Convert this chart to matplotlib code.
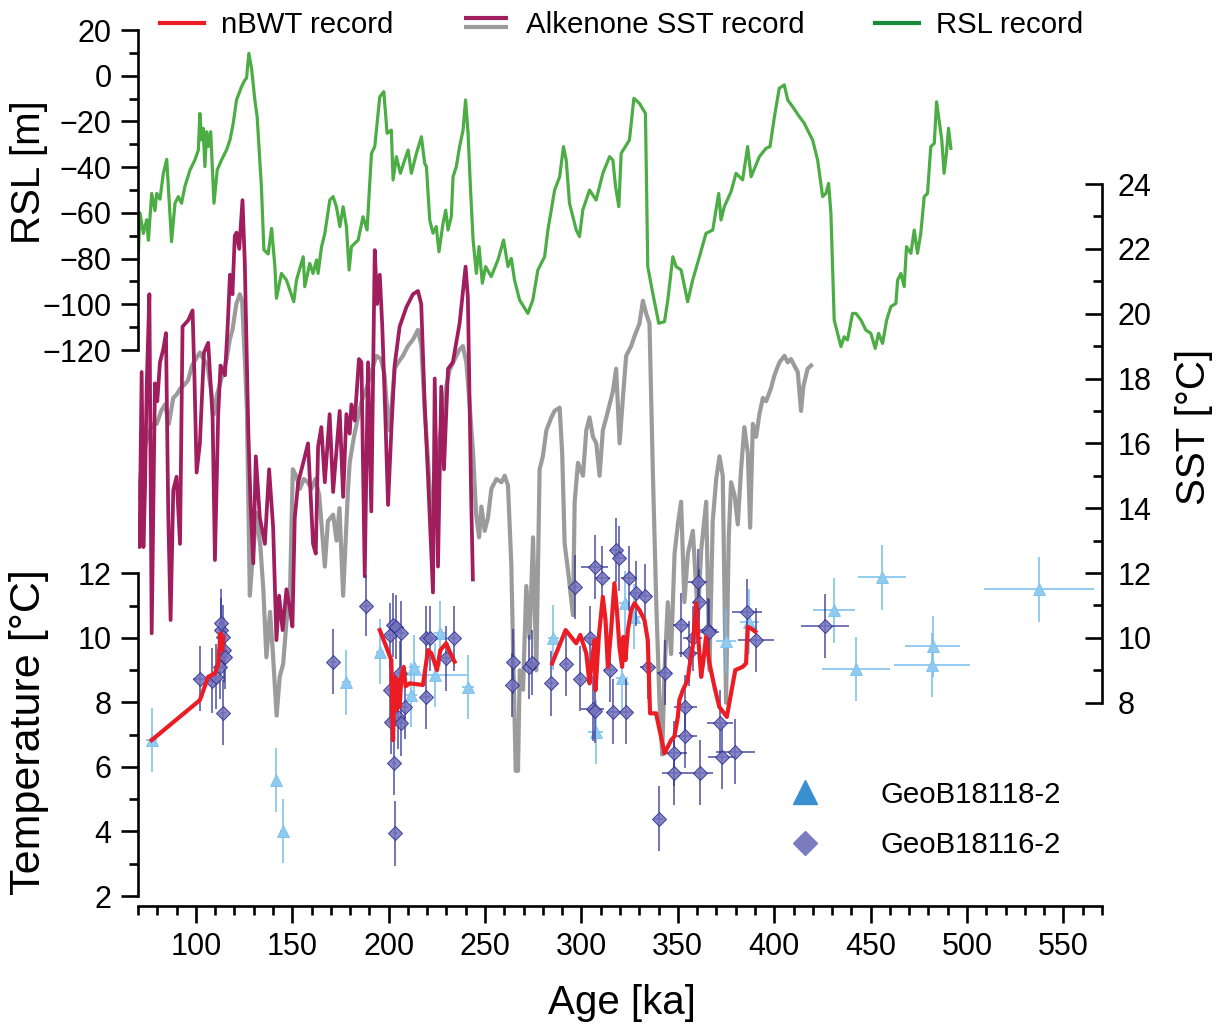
import numpy as np
import matplotlib
matplotlib.use('Agg')
import matplotlib.pyplot as plt
from matplotlib.lines import Line2D
from matplotlib.legend_handler import HandlerBase

plt.rcParams['font.family'] = ['Liberation Sans', 'DejaVu Sans']

# ---------------- data ----------------
# RSL record: (age ka, sea level m)
rsl_record = [
    (70, -82), (71, -60), (72.8, -69), (74.5, -63), (75.4, -72), (77.1, -51.5), (78.8, -59), (79.7, -51.5),
    (81.4, -54), (83.1, -43), (84.9, -36.6), (87.4, -72.6), (89.2, -55.8), (90.9, -52.9), (92.6, -55.8),
    (94.3, -48.5), (97, -41.2), (99.5, -36.9), (101.3, -32.5), (102.1, -16.5), (103, -28.1), (103.8, -23),
    (104.7, -39.8), (105.6, -24.5), (106.4, -31), (107.7, -24.5), (109.4, -55.8), (111.1, -41.2),
    (113.3, -36.9), (115.9, -32.5), (117.7, -28.1), (119.4, -20.8), (121.1, -10.6), (123.7, -4.8),
    (125.4, -1.9), (126.3, -1.1), (127.5, 9.8), (128.9, 3.2), (130.6, -10.6), (131.8, -17.9), (134, -48.5),
    (135.3, -76.2), (137.5, -78), (139.3, -66.8), (141, -83.5), (141.8, -97.4), (144.4, -86.5), (147, -89.4),
    (150.8, -98.9), (152.2, -89.4), (155.7, -79.2), (156.5, -92.3), (159.1, -82.1), (160.8, -86.5),
    (162.6, -80.6), (163.4, -86.5), (165.2, -74.8), (166.9, -69), (169.5, -54.4), (171.2, -52.9),
    (172.9, -57.3), (174.7, -66), (176.4, -57.3), (178.1, -66), (179.5, -85), (180.7, -74.8), (184.2, -71.9),
    (186.7, -61.7), (188.8, -67.5), (191.1, -34), (192.8, -31), (195.4, -9.2), (197.5, -7), (199.2, -25.2),
    (201.4, -23.8), (202.3, -45.6), (204, -35.4), (206.1, -42.7), (208.3, -36.9), (210.1, -32.5),
    (211.8, -42.7), (214.4, -34), (217, -26.7), (218.7, -38.4), (219.6, -39.8), (221.3, -63.1), (223, -68.9),
    (224.7, -66), (226.1, -77), (228.2, -64.6), (229.6, -58.8), (230.8, -67.5), (232.5, -61.7), (233.4, -44.2),
    (235.1, -39.8), (236.8, -31), (238.6, -23.8), (239.9, -10.6), (241.2, -25.2), (242.4, -48.5),
    (243.8, -71.9), (245.5, -86.5), (246.9, -74.8), (248.6, -90.8), (250.3, -83.5), (253.2, -87.9),
    (256.7, -80.6), (259.6, -71.9), (261.9, -83.5), (263.6, -79.9), (265.3, -89.4), (267.9, -98.1),
    (272.2, -104), (274.8, -98.1), (277.4, -85), (280.9, -79.2), (282.6, -67.5), (286.1, -50), (288.7, -44.2),
    (290.7, -31), (292.1, -36.9), (293.8, -55.8), (297.3, -67.5), (299, -70.4), (300.7, -58.8), (304.2, -50),
    (307.6, -54.4), (311.1, -42.7), (314.6, -35.4), (316.3, -36.9), (317.7, -48.5), (319.4, -57.3),
    (320.6, -34), (324.9, -28.1), (327.2, -9.9), (330.1, -12.1), (333.2, -16.5), (334.4, -83.5), (337, -95.2),
    (340.1, -108.3), (343.1, -107.6), (344.8, -98.1), (347.4, -79.2), (349.1, -83.5), (351.7, -85),
    (355.1, -98.9), (357.7, -89.4), (361.2, -79.2), (364.6, -69), (368.1, -67.5), (371.2, -51.5),
    (372.4, -63.1), (374.1, -57.3), (377.6, -50.7), (380.2, -42.7), (383.6, -45.6), (386.2, -31),
    (388, -44.2), (392.3, -35.4), (395.7, -31.8), (397.8, -31), (400.1, -17.9), (402.6, -5.5), (405.2, -4),
    (407, -10.6), (409.5, -13.5), (413, -17.9), (415.6, -20.8), (417.3, -23.8), (419.9, -28.1),
    (422.5, -36.9), (425.1, -52.9), (426.8, -51.5), (428.2, -47.1), (429.4, -60.2), (431.1, -106.9),
    (434.6, -118.5), (436.3, -114.2), (438, -115.6), (440.6, -104), (442.4, -104), (445, -106.9),
    (447.5, -111.3), (450.1, -112.7), (452.4, -119.3), (454.1, -112.7), (456.2, -117.1), (458.3, -106.9),
    (460.5, -101), (463.1, -99.6), (464, -89.4), (465.7, -86.5), (467.4, -92.3), (468.6, -74.8),
    (470.9, -77.7), (472.6, -67.5), (474.3, -77.7), (476, -69), (477.8, -52.9), (479.5, -51.5),
    (481.2, -31), (483, -29.6), (484.2, -11.4), (485.5, -19.4), (486.9, -28.1), (488.1, -42.7),
    (489.3, -34), (490.4, -23), (491.6, -31.8),
]

# Alkenone SST, magenta record: (age ka, SST degC)
sst_magenta = [
    (70, 13.1), (70.8, 12.8), (71.9, 18.2), (72.8, 12.8), (73.6, 14.5), (74.5, 17.75), (75.9, 20.6),
    (77.1, 10.14), (78.8, 17.85), (80, 17.3), (81.4, 18.5), (83.1, 18.9), (84.5, 19.4), (85.7, 13.8),
    (86.9, 10.55), (88.3, 14.56), (90, 14.97), (91.8, 12.9), (93.1, 19.6), (96.1, 19.8), (98.3, 20.1),
    (99.3, 18.0), (100.4, 15.1), (102.1, 16.0), (104.2, 18.8), (106.4, 19.1), (108.7, 16.8), (109.9, 12.4),
    (111.6, 16.9), (112.8, 18.4), (115.1, 18.1), (116.5, 19.6), (117.7, 21.2), (119, 20.6), (120.2, 22.4),
    (121.1, 22.5), (122.5, 22.0), (124.2, 23.5), (125.4, 21.55), (127.2, 16.4), (128.4, 14.1), (129.8, 12.3),
    (131.1, 15.6), (133.2, 13.7), (135.8, 12.9), (138, 15.2), (140.1, 13.4), (141.8, 9.93), (143.2, 11.3),
    (145, 10.24), (147, 11.5), (148.5, 11.0), (150.1, 10.35), (151.3, 13.7), (153.1, 14.8), (155.7, 15.4),
    (158.2, 16.0), (160.8, 12.9), (162.2, 12.6), (163.4, 15.9), (165.1, 16.5), (166.9, 14.8), (169.4, 16.9),
    (171.2, 14.5), (174.6, 17.0), (176.4, 14.35), (178.1, 16.9), (179.8, 16.3), (180.7, 17.2), (182.4, 16.7),
    (184.6, 18.6), (185.9, 18.5), (187.6, 11.9), (189.3, 18.5), (191, 13.9), (192.8, 21.96), (194, 20.3),
    (195.4, 21.2), (196.7, 19.6), (198.2, 17.0), (199.7, 14.1), (201.4, 16.4), (203.1, 18.4), (205.7, 19.6),
    (209.2, 20.2), (212.6, 20.6), (215.2, 20.7), (216.9, 20.3), (218.7, 17.2), (220.4, 15.0), (223, 11.4),
    (223.9, 18.0), (225.6, 12.2), (227.3, 17.75), (228.7, 15.2), (230.8, 18.3), (233.3, 18.5), (236.8, 19.7),
    (239.9, 21.45), (241.1, 20.5), (242.8, 14.35), (243.7, 11.8),
]

# Alkenone SST, grey record: (age ka, SST degC)
sst_grey = [
    (70, 14.3), (72, 15.3), (74, 16.0), (76, 16.4), (78, 16.6), (79.7, 16.6), (82, 17.0), (84, 17.2),
    (86, 16.6), (88.3, 17.4), (90, 17.5), (92, 17.7), (94, 17.8), (96, 17.95), (98, 18.4), (100, 18.6),
    (102.1, 18.8), (104, 18.6), (106, 18.4), (108, 17.6), (109.5, 16.9), (111, 17.5), (114.2, 18.2),
    (116, 18.6), (117.6, 19.2), (119, 19.5), (121, 20.3), (122.8, 20.6), (124, 20.4), (125.4, 18.6),
    (126.5, 17.0), (128, 11.3), (129.5, 12.5), (131.5, 13.85), (133.5, 12.8), (135, 11.5), (136.6, 9.4),
    (138.5, 10.8), (140, 9.5), (141.9, 7.6), (143.5, 8.8), (145.3, 9.2), (147, 10.5), (148.8, 11.3),
    (150.3, 15.2), (152, 15.0), (154, 14.6), (156, 14.9), (158, 14.8), (160, 14.6), (162, 14.9), (164, 14.4),
    (166.9, 12.2), (168.5, 13.6), (171.2, 13.8), (173, 13.0), (174.5, 14.0), (176.4, 11.3), (178.9, 14.56),
    (179.8, 15.4), (182, 16.2), (184.1, 16.8), (186, 17.3), (188, 17.6), (190, 18.0), (193.6, 18.7),
    (196, 18.6), (197.9, 18.1), (199, 17.2), (200.5, 16.4), (202, 17.5), (203.1, 18.3), (205, 18.5),
    (207.4, 18.7), (210, 19.0), (212.6, 19.2), (215.2, 19.5), (217, 19.0), (218.7, 17.0), (220.4, 15.5),
    (222.5, 13.5), (224, 15.0), (226, 16.0), (228, 16.8), (230, 17.8), (231.6, 18.26), (233.5, 18.5),
    (235.1, 18.7), (236.9, 18.9), (238.5, 19.0), (240.3, 18.5), (241.5, 17.6), (243.7, 15.8), (245.4, 13.8),
    (246.9, 13.1), (248.1, 14.05), (249.8, 13.3), (251.5, 13.7), (253.3, 14.6), (255.9, 14.9), (258.5, 14.8),
    (260.2, 15.0), (261.9, 14.7), (263.6, 12.3), (264.8, 9.0), (265.9, 5.9), (267.1, 5.9), (268, 9.0),
    (269.7, 8.4), (271.4, 11.6), (273.1, 10.0), (274.9, 13.1), (276.6, 9.0), (278.3, 15.2), (280, 15.6),
    (281.8, 16.4), (284.4, 16.8), (286.1, 17.0), (288.7, 17.1), (290, 15.7), (291.3, 12.9), (293, 12.1),
    (295.6, 10.7), (296.5, 14.2), (298.2, 15.4), (300.8, 15.0), (302.5, 16.4), (304.2, 16.8), (306, 16.2),
    (307.7, 16.0), (309.4, 15.0), (311.1, 16.4), (312.9, 16.8), (314.6, 17.2), (316.3, 17.6), (318, 18.3),
    (319.8, 16.0), (321.5, 17.4), (323.2, 18.7), (325.8, 19.0), (327.5, 19.3), (330.1, 19.7), (331.9, 20.4),
    (333.6, 20.0), (335.3, 19.7), (337, 15.2), (338.8, 11.1), (340.5, 8.0), (341.9, 6.4), (343.1, 9.0),
    (344.8, 11.1), (346.5, 9.5), (348.3, 12.6), (350, 13.5), (351.7, 14.2), (353.4, 11.1), (355.2, 12.6),
    (357.8, 13.3), (360.4, 10.6), (362.1, 12.7), (364.7, 14.2), (366.4, 9.0), (368.1, 13.6), (369.9, 14.9),
    (371.6, 15.6), (373.3, 15.0), (375, 8.0), (376.4, 13.1), (377.6, 14.8), (379.4, 14.4), (381.1, 13.5),
    (382.8, 15.2), (384.5, 16.5), (386.3, 15.7), (387.5, 13.4), (388.9, 16.6), (390.6, 16.2), (392.3, 16.9),
    (394.1, 17.4), (395.8, 17.3), (398.3, 17.7), (400.1, 18.1), (402.7, 18.5), (405.3, 18.7), (407, 18.5),
    (408.7, 18.6), (410.4, 18.4), (412.2, 18.2), (413.9, 17.0), (415.1, 17.75), (417.3, 18.3), (419.1, 18.4),
]

# nBWT record (age ka, temperature degC); None marks gaps
nbwt_record = [
    (77.1, 6.83), (102.1, 8.07), (106.4, 8.79), (109.9, 8.9), (111.6, 9.2), (112.8, 10.14), (113.7, 9.62),
    (114.2, 10.03), None,
    (195.4, 10.24), (198.8, 9.72), (201.4, 9.31), (202, 7.45), (202.3, 6.83), (203.1, 8.79), (204, 7.76),
    (204.9, 8.69), (205.7, 7.86), (206.6, 8.79), (207.8, 9.1), (208.8, 8.5), (210.9, 8.59), (217.8, 8.54),
    (220.4, 9.62), (222.2, 9.52), (225.1, 9.0), (226.8, 9.62), (229.9, 9.83), (231.3, 9.62), (234.2, 9.26),
    None,
    (284.8, 9.21), (291.8, 10.24), (297.3, 9.83), (299.4, 10.09), (302.5, 9.52), (304.2, 8.59), (305.1, 9.1),
    (306.8, 9.93), (307.3, 8.38), (309, 10.03), (311.1, 11.27), (312.5, 10.55), (313.7, 9.1), (315.4, 10.24),
    (317.1, 11.69), (318.4, 10.86), (319.7, 9.72), (321.1, 9.1), (321.8, 10.03), (322.8, 9.31), (324.1, 10.24),
    (325.8, 10.86), (327.5, 11.07), (330.1, 10.86), (332.7, 10.55), (334.4, 9.93), (335.6, 7.66), (338.7, 7.66),
    (343.1, 6.42), (346.5, 6.83), (348.2, 6.94), (350, 7.55), (350.8, 8.07), (352.6, 8.38), (355.1, 8.69),
    (356, 9.1), (357.7, 9.72), (359.5, 11.07), (360.8, 9.83), (362.1, 8.79), (363.3, 9.31), (364.6, 10.03),
    (366.4, 9.21), (369, 8.48), (371.5, 7.86), (375.4, 7.55), (377.6, 8.28), (379.8, 9.0), (383.6, 9.1),
    (385.4, 9.21), (386.2, 10.34), (388, 10.29), (390.2, 10.19),
]

# GeoB18116-2 samples: (age, temperature, age error, temperature error)
geob18116 = [
    (102.1, 8.74, 3.5, 1.0), (108.2, 8.67, 2.0, 1.0), (110.7, 8.8, 1.5, 1.0), (112.5, 9.1, 1.5, 1.0),
    (112.8, 10.24, 1.5, 1.0), (113.3, 10.45, 1.5, 1.05), (113.9, 10.03, 1.5, 1.0), (114.5, 9.62, 1.5, 1.0),
    (115.1, 9.41, 1.5, 1.0), (113.9, 7.68, 1.5, 1.0), (171.2, 9.26, 1.5, 1.0), (188.4, 11.0, 2.0, 0.95),
    (200.6, 10.09, 2.0, 1.0), (200.5, 8.38, 1.5, 1.0), (201.4, 7.4, 1.5, 1.0), (202.3, 10.4, 2.0, 1.0),
    (202.6, 6.13, 1.0, 1.0), (203.1, 3.94, 1.0, 1.0), (204.0, 10.34, 2.0, 1.0), (204.9, 7.56, 1.5, 1.0),
    (205.7, 8.9, 1.5, 1.0), (206.6, 10.14, 2.0, 1.0), (206.6, 7.35, 1.5, 1.0), (208.3, 7.86, 1.5, 1.0),
    (219.2, 9.98, 2.0, 1.0), (221.6, 9.98, 2.0, 1.0), (219.2, 8.17, 2.0, 1.0), (229.9, 9.36, 2.0, 1.0),
    (233.7, 9.98, 2.0, 1.0), (264.5, 9.26, 1.0, 1.0), (264.1, 8.54, 1.0, 1.0), (272.8, 9.1, 1.0, 1.0),
    (274.5, 9.23, 1.0, 1.0), (284.3, 8.59, 1.5, 1.0), (291.8, 9.19, 1.5, 1.0), (296.9, 11.58, 1.5, 1.0),
    (299.0, 8.74, 1.5, 1.0), (304.2, 9.98, 2.5, 1.0), (305.9, 7.81, 6.0, 1.0), (306.8, 7.74, 3.0, 1.0),
    (306.8, 12.2, 7.0, 1.0), (310.8, 11.84, 4.0, 1.0), (314.6, 9.0, 3.0, 1.0), (316.3, 7.71, 3.0, 1.0),
    (317.7, 12.72, 3.0, 1.0), (319.4, 12.46, 3.0, 1.0), (323.2, 7.71, 3.0, 1.0), (324.6, 11.84, 4.0, 1.0),
    (328.4, 11.38, 3.0, 1.0), (333.2, 11.3, 3.0, 1.0), (334.4, 9.1, 4.0, 1.0), (340.1, 4.4, 2.0, 1.0),
    (343.1, 8.92, 4.0, 1.0), (348.2, 6.42, 6.5, 1.0), (348.2, 5.82, 6.5, 1.0), (351.7, 10.4, 4.0, 1.0),
    (353.9, 7.86, 6.0, 1.0), (353.9, 6.96, 6.0, 1.0), (355.7, 9.52, 5.0, 1.0), (357.7, 9.98, 5.0, 1.0),
    (360.3, 11.74, 5.0, 1.0), (360.8, 11.12, 3.0, 1.0), (361.5, 5.82, 6.9, 1.0), (365.5, 10.24, 5.0, 1.0),
    (366.4, 10.19, 5.0, 1.0), (371.9, 7.37, 6.9, 1.0), (372.9, 6.32, 7.3, 1.0), (379.8, 6.47, 10.0, 1.0),
    (385.7, 10.81, 7.8, 1.0), (390.6, 9.93, 9.5, 1.0), (426.5, 10.36, 12.5, 1.0),
]

# GeoB18118-2 samples: (age, temperature, age error, temperature error)
geob18118 = [
    (77.1, 6.83, 3.0, 1.0), (141.8, 5.59, 1.5, 1.0), (145.0, 4.02, 1.5, 1.0), (178.1, 8.62, 2.5, 1.0),
    (195.4, 9.57, 2.0, 1.0), (211.8, 8.23, 3.0, 1.0), (213.4, 9.1, 3.0, 1.0), (223.9, 8.85, 17.0, 1.0),
    (226.5, 10.14, 3.0, 1.0), (241.1, 8.48, 3.0, 1.0), (285.5, 10.01, 3.0, 1.0), (307.3, 7.08, 4.0, 1.0),
    (321.1, 8.75, 3.0, 1.0), (322.4, 11.07, 3.0, 1.0), (327.5, 10.66, 3.0, 1.0), (375.0, 9.9, 5.0, 1.0),
    (387.0, 10.5, 5.0, 1.0), (431.1, 10.85, 11.0, 1.0), (442.4, 9.03, 17.6, 1.0), (455.8, 11.87, 12.3, 1.0),
    (482.1, 9.74, 14.2, 0.95), (481.7, 9.16, 19.7, 1.0), (537.4, 11.5, 28.5, 1.0),
]

legend_lines = ['nBWT record', 'Alkenone SST record', 'RSL record']
legend_cores = ['GeoB18118-2', 'GeoB18116-2']

# ---------------- colours ----------------
c_red = '#ec1c24'
c_magenta = '#a01d5e'
c_grey = '#9b9b9b'
c_green = '#4cad45'
c_green_leg = '#188a3c'
c_navy = '#2e3192'
c_lblue = '#76bdec'


class StackedLines(HandlerBase):
    # two legend lines drawn one above the other
    def create_artists(self, legend, orig_handle, xdescent, ydescent, width, height, fontsize, trans):
        yc = (height - ydescent) / 2
        arts = []
        for ln, dy in zip(orig_handle, (3.3, -3.3)):
            a = Line2D([-xdescent, -xdescent + width], [yc + dy, yc + dy],
                       color=ln.get_color(), lw=ln.get_linewidth(), solid_capstyle='butt')
            a.set_transform(trans)
            arts.append(a)
        return arts


def unzip(rows):
    n = len(next(r for r in rows if r is not None))
    return [np.array([np.nan if r is None else r[i] for r in rows]) for i in range(n)]


W, H = 1222, 1028
L, R, T, B = 138, 1102, 10, 906   # plot box in pixels


def px_limits(v1, p1, v2, p2):
    # limits so that value v1 sits at pixel row p1 and v2 at pixel row p2
    k = (v1 - v2) / (p2 - p1)
    return v2 - (B - p2) * k, v1 + (p1 - T) * k


fig = plt.figure(figsize=(W / 100, H / 100), dpi=100)
ax = fig.add_axes([L / W, 1 - B / H, (R - L) / W, (B - T) / H])   # RSL + age axis
ax_sst = ax.twinx()
ax_t = ax.twinx()

ax.set_xlim(70, 570)
ax.set_ylim(*px_limits(20, 30, -120, 350))
ax_sst.set_ylim(*px_limits(24, 184, 8, 702.7))
ax_t.set_ylim(*px_limits(12, 573.3, 2, 896))

# curves
rsl_age, rsl_m = unzip(rsl_record)
ax.plot(rsl_age, rsl_m, color=c_green, lw=2.3, solid_joinstyle='round')

g_age, g_val = unzip(sst_grey)
m_age, m_val = unzip(sst_magenta)
ax_sst.plot(g_age, g_val, color=c_grey, lw=3.0, solid_joinstyle='round')
ax_sst.plot(m_age, m_val, color=c_magenta, lw=2.7, solid_joinstyle='round')

# core samples
a18, t18, xe18, ye18 = unzip(geob18118)
ax_t.errorbar(a18, t18, xerr=xe18, yerr=ye18, fmt='^', ms=8.5, mfc='#8fcaf0', mec='#7cbfec', mew=0.6,
              ecolor=c_lblue, elinewidth=1.1, capsize=0, zorder=3)
a16, t16, xe16, ye16 = unzip(geob18116)
ax_t.errorbar(a16, t16, xerr=xe16, yerr=ye16, fmt='D', ms=7.2, mfc=(0.45, 0.45, 0.74, 0.85),
              mec=(0.18, 0.19, 0.55, 0.9), mew=0.7, ecolor=(0.18, 0.19, 0.57, 0.85), elinewidth=1.1,
              capsize=0, zorder=4)

n_age, n_t = unzip(nbwt_record)
ax_t.plot(n_age, n_t, color=c_red, lw=3.0, zorder=6, solid_joinstyle='round')

# ---------------- axes styling ----------------
for a in (ax, ax_sst, ax_t):
    for s in ('top', 'right', 'left', 'bottom'):
        a.spines[s].set_visible(False)
        a.spines[s].set_linewidth(1.9)

ax.spines['left'].set_visible(True)
ax.spines['left'].set_bounds(-120, 20)
ax.spines['bottom'].set_visible(True)
ax_sst.spines['right'].set_visible(True)
ax_sst.spines['right'].set_bounds(8, 24)
ax_t.spines['left'].set_visible(True)
ax_t.spines['left'].set_bounds(2, 12)
ax_t.yaxis.tick_left()
ax_t.yaxis.set_label_position('left')

ax.set_xticks(np.arange(100, 551, 50))
ax.set_xticks(np.arange(70, 571, 10), minor=True)
ax.set_yticks(np.arange(-120, 21, 20))
ax.set_yticks(np.arange(-110, 20, 20), minor=True)
ax_sst.set_yticks(np.arange(8, 25, 2))
ax_sst.set_yticks(np.arange(9, 24, 2), minor=True)
ax_t.set_yticks(np.arange(2, 13, 2))
ax_t.set_yticks(np.arange(3, 12, 2), minor=True)

for a in (ax, ax_t):
    a.tick_params(which='major', direction='out', length=12, width=1.9, labelsize=22, pad=7)
    a.tick_params(which='minor', direction='out', length=6.5, width=1.9)
ax_sst.tick_params(which='major', direction='in', length=12, width=1.9, labelsize=22, pad=11.5)
ax_sst.tick_params(which='minor', direction='in', length=6.5, width=1.9)

# axis titles
fig.text(29 / W, 1 - 172 / H, 'RSL [m]', rotation=90, ha='center', va='center', fontsize=29)
fig.text(29 / W, 1 - 732 / H, 'Temperature [°C]', rotation=90, ha='center', va='center', fontsize=31)
fig.text(1194 / W, 1 - 427 / H, 'SST [°C]', rotation=90, ha='center', va='center', fontsize=29)
fig.text(622 / W, 1 - 1003 / H, 'Age [ka]', ha='center', va='center', fontsize=29)

# ---------------- legends ----------------
h_nbwt = Line2D([], [], color=c_red, lw=3)
h_alk = (Line2D([], [], color=c_magenta, lw=3), Line2D([], [], color=c_grey, lw=3))
h_rsl = Line2D([], [], color=c_green_leg, lw=3)
fig.legend([h_nbwt, h_alk, h_rsl], legend_lines, handler_map={tuple: StackedLines()},
           loc='center left', bbox_to_anchor=(160 / W, 1 - 25 / H), ncol=3, frameon=False,
           fontsize=21.2, handlelength=1.5, handletextpad=0.58, columnspacing=2.4,
           borderpad=0, borderaxespad=0)

h_tri = Line2D([], [], marker='^', ls='none', ms=17, color='#3a8fd1', mec='#3a8fd1')
h_dia = Line2D([], [], marker='D', ls='none', ms=12, color='#7c7cc0', mec='#7c7cc0')
fig.legend([h_tri, h_dia], legend_cores, loc='center left', bbox_to_anchor=(782 / W, 1 - 820 / H),
           frameon=False, fontsize=21.2, handlelength=1.55, handletextpad=1.78, labelspacing=0.78,
           borderpad=0, borderaxespad=0)

fig.savefig('out.png', dpi=100)
